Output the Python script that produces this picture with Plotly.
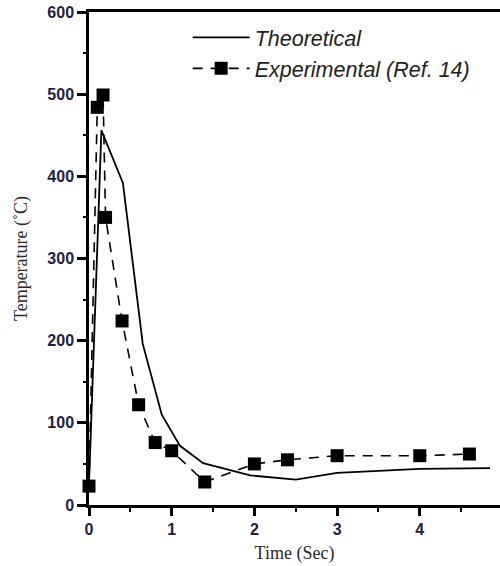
import plotly.graph_objects as go

# Data
theo_t = [0.0, 0.15, 0.41, 0.65, 0.88, 1.1, 1.38, 1.95, 2.5, 3.0, 4.0, 4.85]
theo_T = [25, 456, 392, 196, 110, 72, 51, 36, 31, 39, 44, 45]

exp_t = [0.0, 0.1, 0.17, 0.2, 0.4, 0.6, 0.8, 1.0, 1.4, 2.0, 2.4, 3.0, 4.0, 4.6]
exp_T = [23, 484, 499, 350, 224, 122, 76, 66, 28, 50, 55, 60, 60, 62]

x_ticks = [0, 1, 2, 3, 4, 5]
y_ticks = [0, 100, 200, 300, 400, 500, 600]

fig = go.Figure()
fig.add_trace(go.Scatter(
    x=theo_t, y=theo_T, mode="lines", name="Theoretical",
    line=dict(color="black", width=1.8), legendgroup="a"))
fig.add_trace(go.Scatter(
    x=exp_t, y=exp_T, mode="lines+markers", name="Experimental (Ref. 14)",
    line=dict(color="black", width=1.6, dash="10px,8px"),
    marker=dict(symbol="square", size=13, color="black"),
    legendgroup="b", cliponaxis=False))

tickfont = dict(family="Liberation Sans, Arial", size=16, color="#1e1e46", weight="bold")
titlefont = dict(family="Liberation Serif, Times New Roman", size=18, color="#2a2a2a")

fig.update_layout(
    width=500, height=566,
    margin=dict(l=89, r=0, t=12, b=61),
    paper_bgcolor="white", plot_bgcolor="white",
    showlegend=True,
    legend=dict(x=0.24, y=0.99, xanchor="left", yanchor="top",
                bgcolor="rgba(0,0,0,0)", itemwidth=57, tracegroupgap=0,
                font=dict(family="Liberation Sans, Arial", size=21.5, color="#222222",
                          style="italic")),
    xaxis=dict(range=[0, 4.97], tickvals=x_ticks, ticktext=[str(v) for v in x_ticks],
               showgrid=False, zeroline=False, showline=True, linecolor="black",
               linewidth=2.5, mirror=True, ticks="outside", ticklen=8, tickwidth=2.5,
               tickcolor="black", tickfont=tickfont,
               minor=dict(dtick=0.5, ticks="outside", ticklen=4, tickwidth=2, tickcolor="black"),
               title=dict(text="Time (Sec)", font=titlefont, standoff=10)),
    yaxis=dict(range=[0, 600], tickvals=y_ticks, ticktext=[str(v) for v in y_ticks],
               showgrid=False, zeroline=False, showline=True, linecolor="black",
               linewidth=2.5, ticks="outside", ticklen=9, tickwidth=2.5,
               tickcolor="black", tickfont=tickfont,
               minor=dict(dtick=50, ticks="outside", ticklen=3, tickwidth=2, tickcolor="black"),
               title=dict(text="Temperature (˚C)", font=titlefont, standoff=16)),
)

fig.write_html("out.html")
